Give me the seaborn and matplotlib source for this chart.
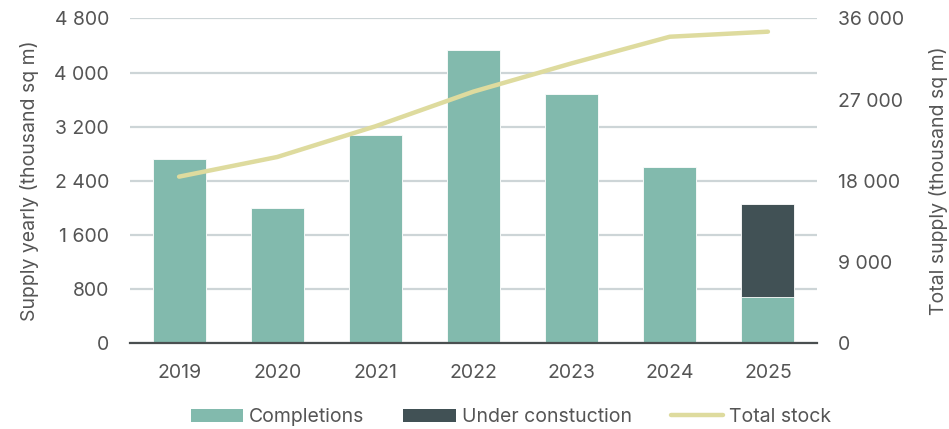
import matplotlib
matplotlib.use("Agg")
import matplotlib.pyplot as plt
import seaborn as sns
import numpy as np
import pandas as pd
from matplotlib.patches import Patch
from matplotlib.lines import Line2D

years = ["2019", "2020", "2021", "2022", "2023", "2024", "2025"]
completions = [2720, 2000, 3075, 4335, 3680, 2600, 680]
under_construction = [0, 0, 0, 0, 0, 0, 1380]
total_stock = [18470, 20650, 24050, 27900, 31030, 33980, 34540]

left_ticks = [0, 800, 1600, 2400, 3200, 4000, 4800]
right_ticks = [0, 9000, 18000, 27000, 36000]

C_COMP = "#82BAAD"
C_UC = "#415155"
C_LINE = "#DEDB9E"
C_GRID = "#CDD5D7"
C_TEXT = "#555555"
FS = 14

sns.set_theme(style="white")
plt.rcParams["font.family"] = ["Inter", "DejaVu Sans"]

df = pd.DataFrame({
    "year": years,
    "completions": completions,
    "uc": under_construction,
    "stock": total_stock,
})
df["total"] = df["completions"] + df["uc"]

fig = plt.figure(figsize=(9.49, 4.29), dpi=100)
ax = fig.add_axes([130 / 949, 1 - 343.3 / 429, (817 - 130) / 949, (343.3 - 18.5) / 429])

sns.barplot(data=df, x="year", y="total", color=C_UC, width=0.54, ax=ax,
            saturation=1, edgecolor="white", linewidth=0.6, zorder=3)
sns.barplot(data=df, x="year", y="completions", color=C_COMP, width=0.54, ax=ax,
            saturation=1, edgecolor="white", linewidth=0.6, zorder=3)

ax.set_xlim(-0.5, len(years) - 0.5)
ax.set_ylim(0, 4800)
ax.set_yticks(left_ticks)
ax.set_yticklabels([f"{v:,}".replace(",", " ") for v in left_ticks])
ax.grid(axis="y", color=C_GRID, linewidth=1.6, zorder=0)
ax.set_axisbelow(True)
for s in ["top", "right", "left"]:
    ax.spines[s].set_visible(False)
ax.spines["bottom"].set_color("#4a4f50")
ax.spines["bottom"].set_linewidth(1.6)
ax.spines["bottom"].set_zorder(4)
ax.tick_params(axis="both", length=0, labelsize=FS, labelcolor=C_TEXT)
ax.tick_params(axis="y", pad=15)
ax.tick_params(axis="x", pad=15)
ax.set_xlabel("")
ax.set_ylabel("Supply yearly (thousand sq m)", fontsize=FS, color=C_TEXT, labelpad=11)

ax2 = ax.twinx()
sns.lineplot(x=np.arange(len(years)), y=df["stock"], color=C_LINE, linewidth=3.2,
             ax=ax2, zorder=5)
ax2.set_ylim(0, 36000)
ax2.set_yticks(right_ticks)
ax2.set_yticklabels([f"{v:,}".replace(",", " ") for v in right_ticks])
for s in ["top", "right", "left", "bottom"]:
    ax2.spines[s].set_visible(False)
ax2.tick_params(axis="y", length=0, labelsize=FS, labelcolor=C_TEXT, pad=15)
ax2.set_ylabel("Total supply (thousand sq m)", fontsize=FS, color=C_TEXT, labelpad=18)
ax2.grid(False)
ax.set_xlim(-0.5, len(years) - 0.5)

handles = [
    Patch(facecolor=C_COMP, edgecolor="none"),
    Patch(facecolor=C_UC, edgecolor="none"),
    Line2D([0], [0], color=C_LINE, linewidth=3.2),
]
labels = ["Completions", "Under constuction", "Total stock"]
fig.legend(handles, labels, loc="center", bbox_to_anchor=(511 / 949, 1 - 417 / 429),
           ncol=3, frameon=False, fontsize=FS, labelcolor=C_TEXT,
           handlelength=2.7, handleheight=0.65, handletextpad=0.3, columnspacing=2.0)

fig.savefig("out.png", dpi=100)
